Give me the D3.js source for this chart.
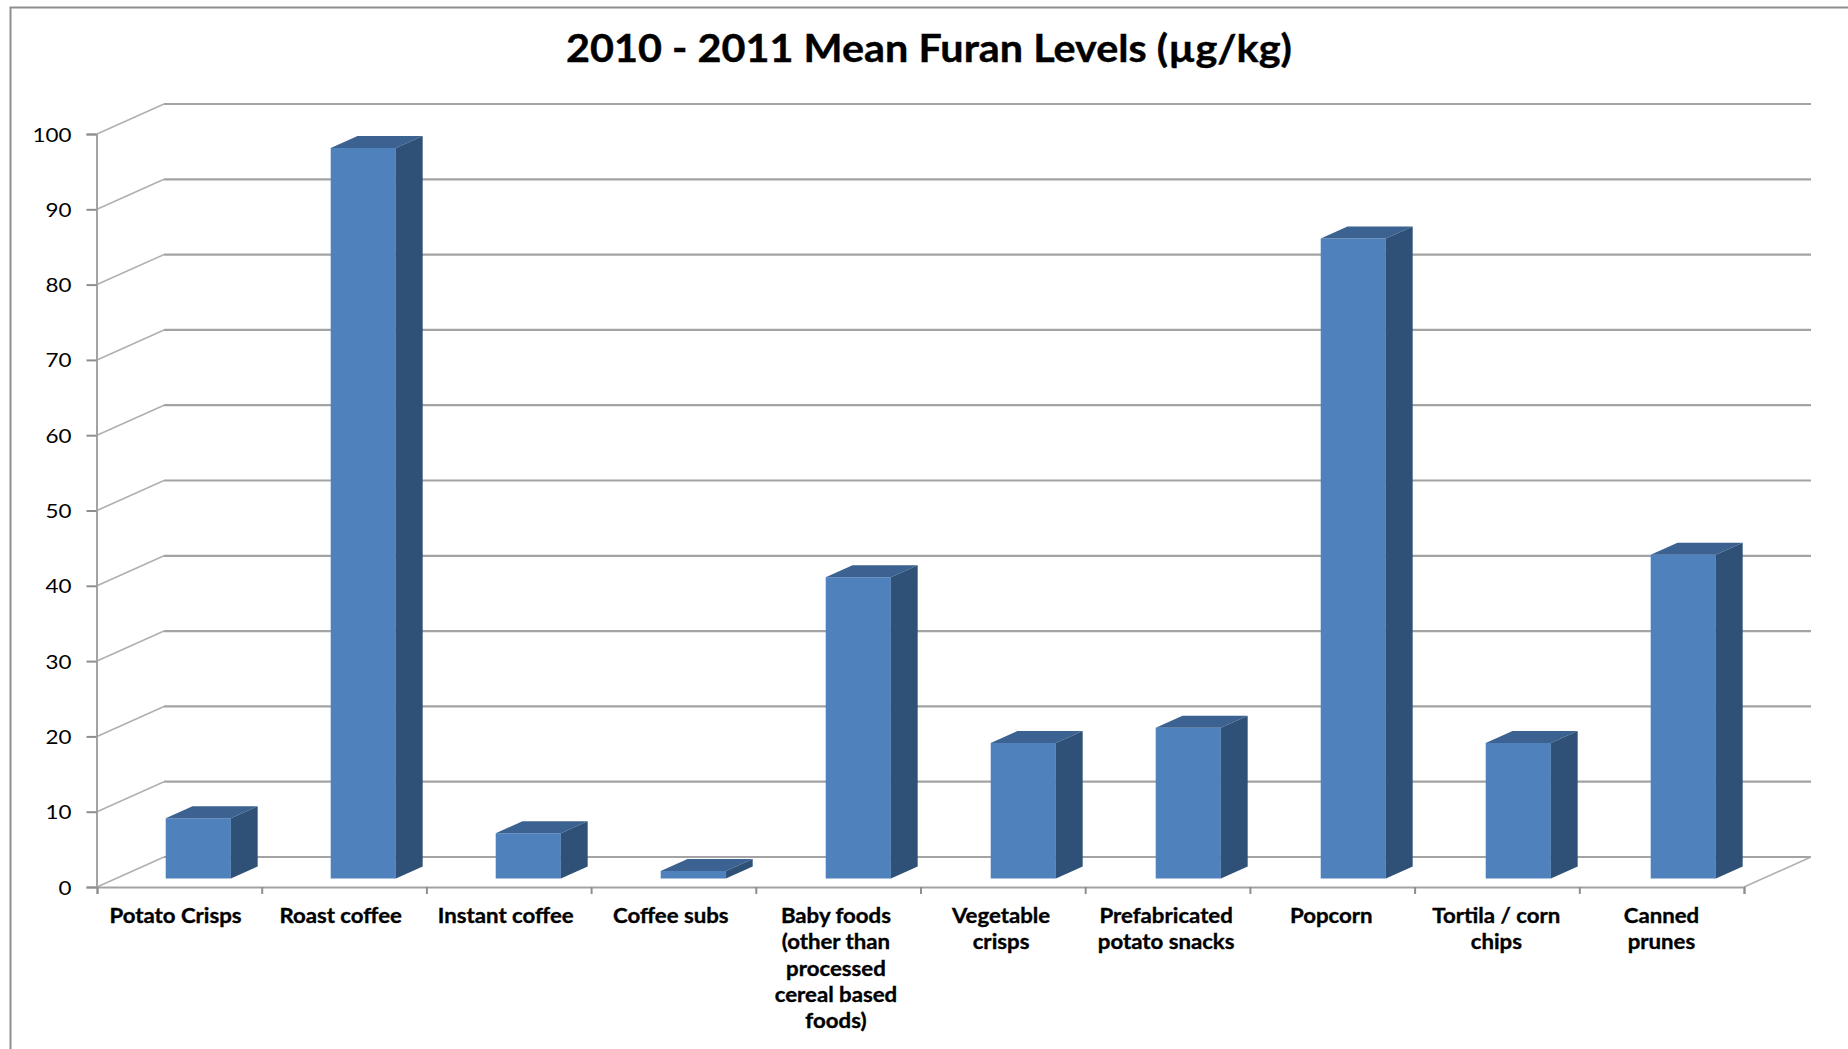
<!DOCTYPE html>
<html>
<head>
<meta charset="utf-8">
<title>2010 - 2011 Mean Furan Levels</title>
<script src="https://cdn.jsdelivr.net/npm/d3@7/dist/d3.min.js"></script>
<style>
  html, body { margin: 0; padding: 0; background: #fff; overflow: hidden; }
  svg { display: block; }
  text { font-family: Lato, "Open Sans", sans-serif; fill: #000; }
</style>
</head>
<body>
<svg id="chart" width="1848" height="1049"></svg>
<script>
// Mean furan level per food group (µg/kg)
const categories = [
  "Potato Crisps", "Roast coffee", "Instant coffee", "Coffee subs",
  "Baby foods (other than processed cereal based foods)", "Vegetable crisps",
  "Prefabricated potato snacks", "Popcorn", "Tortila / corn chips", "Canned prunes"
];
const furanLevels = [8, 97, 6, 1, 40, 18, 20, 85, 18, 43];
const valueTicks = [0, 10, 20, 30, 40, 50, 60, 70, 80, 90, 100];
const labelLines = [
  ["Potato Crisps"], ["Roast coffee"], ["Instant coffee"], ["Coffee subs"],
  ["Baby foods", "(other than", "processed", "cereal based", "foods)"],
  ["Vegetable", "crisps"], ["Prefabricated", "potato snacks"], ["Popcorn"],
  ["Tortila / corn", "chips"], ["Canned", "prunes"]
];
const chartTitle = "2010 - 2011 Mean Furan Levels (µg/kg)";

const svg = d3.select("#chart");

// Plot box: front edge of the floor plus the oblique depth vector
const left = 97, right = 1744, bottom = 887, top100 = 134;
const depthX = 67, depthY = -30;
const barFront = 0.285, barBack = 0.685;

// Columns sit on a slightly wider step than the axis ticks
const x = d3.scaleBand().domain(categories).range([left - 0.3, right + 2.7]);
const xLabels = d3.scaleBand().domain(categories).range([left - 4, right]);
const xEdges = d3.scaleLinear().domain([0, categories.length]).range([left, right]);
const y = d3.scaleLinear().domain([0, 100]).range([bottom, top100]);

const gridColor = "#a3a3a3";

// The typeface runs narrower than the chart's lettering, so widen each run
function widen(selection, factor) {
  selection.each(function () {
    const w = this.getComputedTextLength();
    d3.select(this).attr("textLength", w * factor).attr("lengthAdjust", "spacingAndGlyphs");
  });
}

// Outer chart frame, which runs off the right and bottom of the page
svg.append("path")
  .attr("d", d3.line()([[10.5, 1049], [10.5, 7.5], [1848, 7.5]]))
  .attr("fill", "none").attr("stroke", "#8e8e8e").attr("stroke-width", 2);

// Back wall gridlines and their oblique returns to the axis
const grid = svg.append("g").attr("class", "grid");
grid.selectAll("line.back").data(valueTicks).join("line")
  .attr("class", "back")
  .attr("x1", left + depthX).attr("x2", right + depthX)
  .attr("y1", d => y(d) + depthY).attr("y2", d => y(d) + depthY)
  .attr("stroke", gridColor).attr("stroke-width", 2.2);
grid.selectAll("line.side").data(valueTicks).join("line")
  .attr("class", "side")
  .attr("x1", left).attr("x2", left + depthX)
  .attr("y1", d => y(d)).attr("y2", d => y(d) + depthY)
  .attr("stroke", "#b0b0b0").attr("stroke-width", 1.6);
// Right edge of the floor
grid.append("line")
  .attr("x1", right).attr("x2", right + depthX)
  .attr("y1", bottom).attr("y2", bottom + depthY)
  .attr("stroke", "#b0b0b0").attr("stroke-width", 1.6);

// 3-D columns: front face, top and side
const barW = x.bandwidth() * 0.395;
const bars = svg.append("g").attr("class", "bars").selectAll("g")
  .data(categories.map((c, i) => ({ c, v: furanLevels[i] })))
  .join("g");

const pt = (d, across, value, depth) => [
  x(d.c) + (x.bandwidth() - barW) / 2 + across * barW + depth * depthX,
  y(value) + depth * depthY
];
const poly = d3.line();

bars.append("path").attr("fill", "#4f81bd")
  .attr("d", d => poly([pt(d, 0, 0, barFront), pt(d, 1, 0, barFront), pt(d, 1, d.v, barFront), pt(d, 0, d.v, barFront)]) + "Z");
bars.append("path").attr("fill", "#3b6291")
  .attr("d", d => poly([pt(d, 0, d.v, barFront), pt(d, 1, d.v, barFront), pt(d, 1, d.v, barBack), pt(d, 0, d.v, barBack)]) + "Z");
bars.append("path").attr("fill", "#2f5177")
  .attr("d", d => poly([pt(d, 1, 0, barFront), pt(d, 1, 0, barBack), pt(d, 1, d.v, barBack), pt(d, 1, d.v, barFront)]) + "Z");

// Value axis
const yAxis = svg.append("g").attr("class", "y-axis")
  .attr("transform", `translate(${left - 0.5},0)`)
  .call(d3.axisLeft(y).tickValues(valueTicks).tickSize(10).tickPadding(15));
// Category axis: tick marks on the band edges
const xTicks = svg.append("g").attr("class", "x-ticks")
  .attr("transform", `translate(0,${bottom})`)
  .call(d3.axisBottom(xEdges).tickValues(d3.range(categories.length + 1)).tickSize(7).tickFormat(""));
[yAxis, xTicks].forEach(g => {
  g.selectAll("path.domain").attr("stroke", gridColor).attr("stroke-width", 2);
  g.selectAll("line").attr("stroke", "#8e8e8e").attr("stroke-width", 2);
});

yAxis.selectAll("text")
  .attr("font-size", 20).attr("font-weight", 400).attr("fill", "#000")
  .attr("font-family", "Lato").attr("dy", "0.35em")
  .call(widen, 1.12);

// Category labels, wrapped by line
const labels = svg.append("g").attr("class", "x-labels").selectAll("text")
  .data(categories).join("text")
  .attr("text-anchor", "middle")
  .attr("font-size", 20).attr("font-weight", 700)
  .attr("stroke", "#000").attr("stroke-width", 0.35);
labels.each(function (c, i) {
  d3.select(this).selectAll("tspan").data(labelLines[i]).join("tspan")
    .attr("x", xLabels(c) + xLabels.bandwidth() / 2)
    .attr("y", (d, k) => 923 + k * 26.3)
    .text(d => d)
    .call(widen, 1.11);
});

// Title
svg.append("text").attr("class", "title")
  .attr("x", 929).attr("y", 62)
  .attr("text-anchor", "middle")
  .attr("font-size", 38).attr("font-weight", 700)
  .attr("stroke", "#000").attr("stroke-width", 0.4)
  .text(chartTitle)
  .call(widen, 1.088);
</script>
</body>
</html>
